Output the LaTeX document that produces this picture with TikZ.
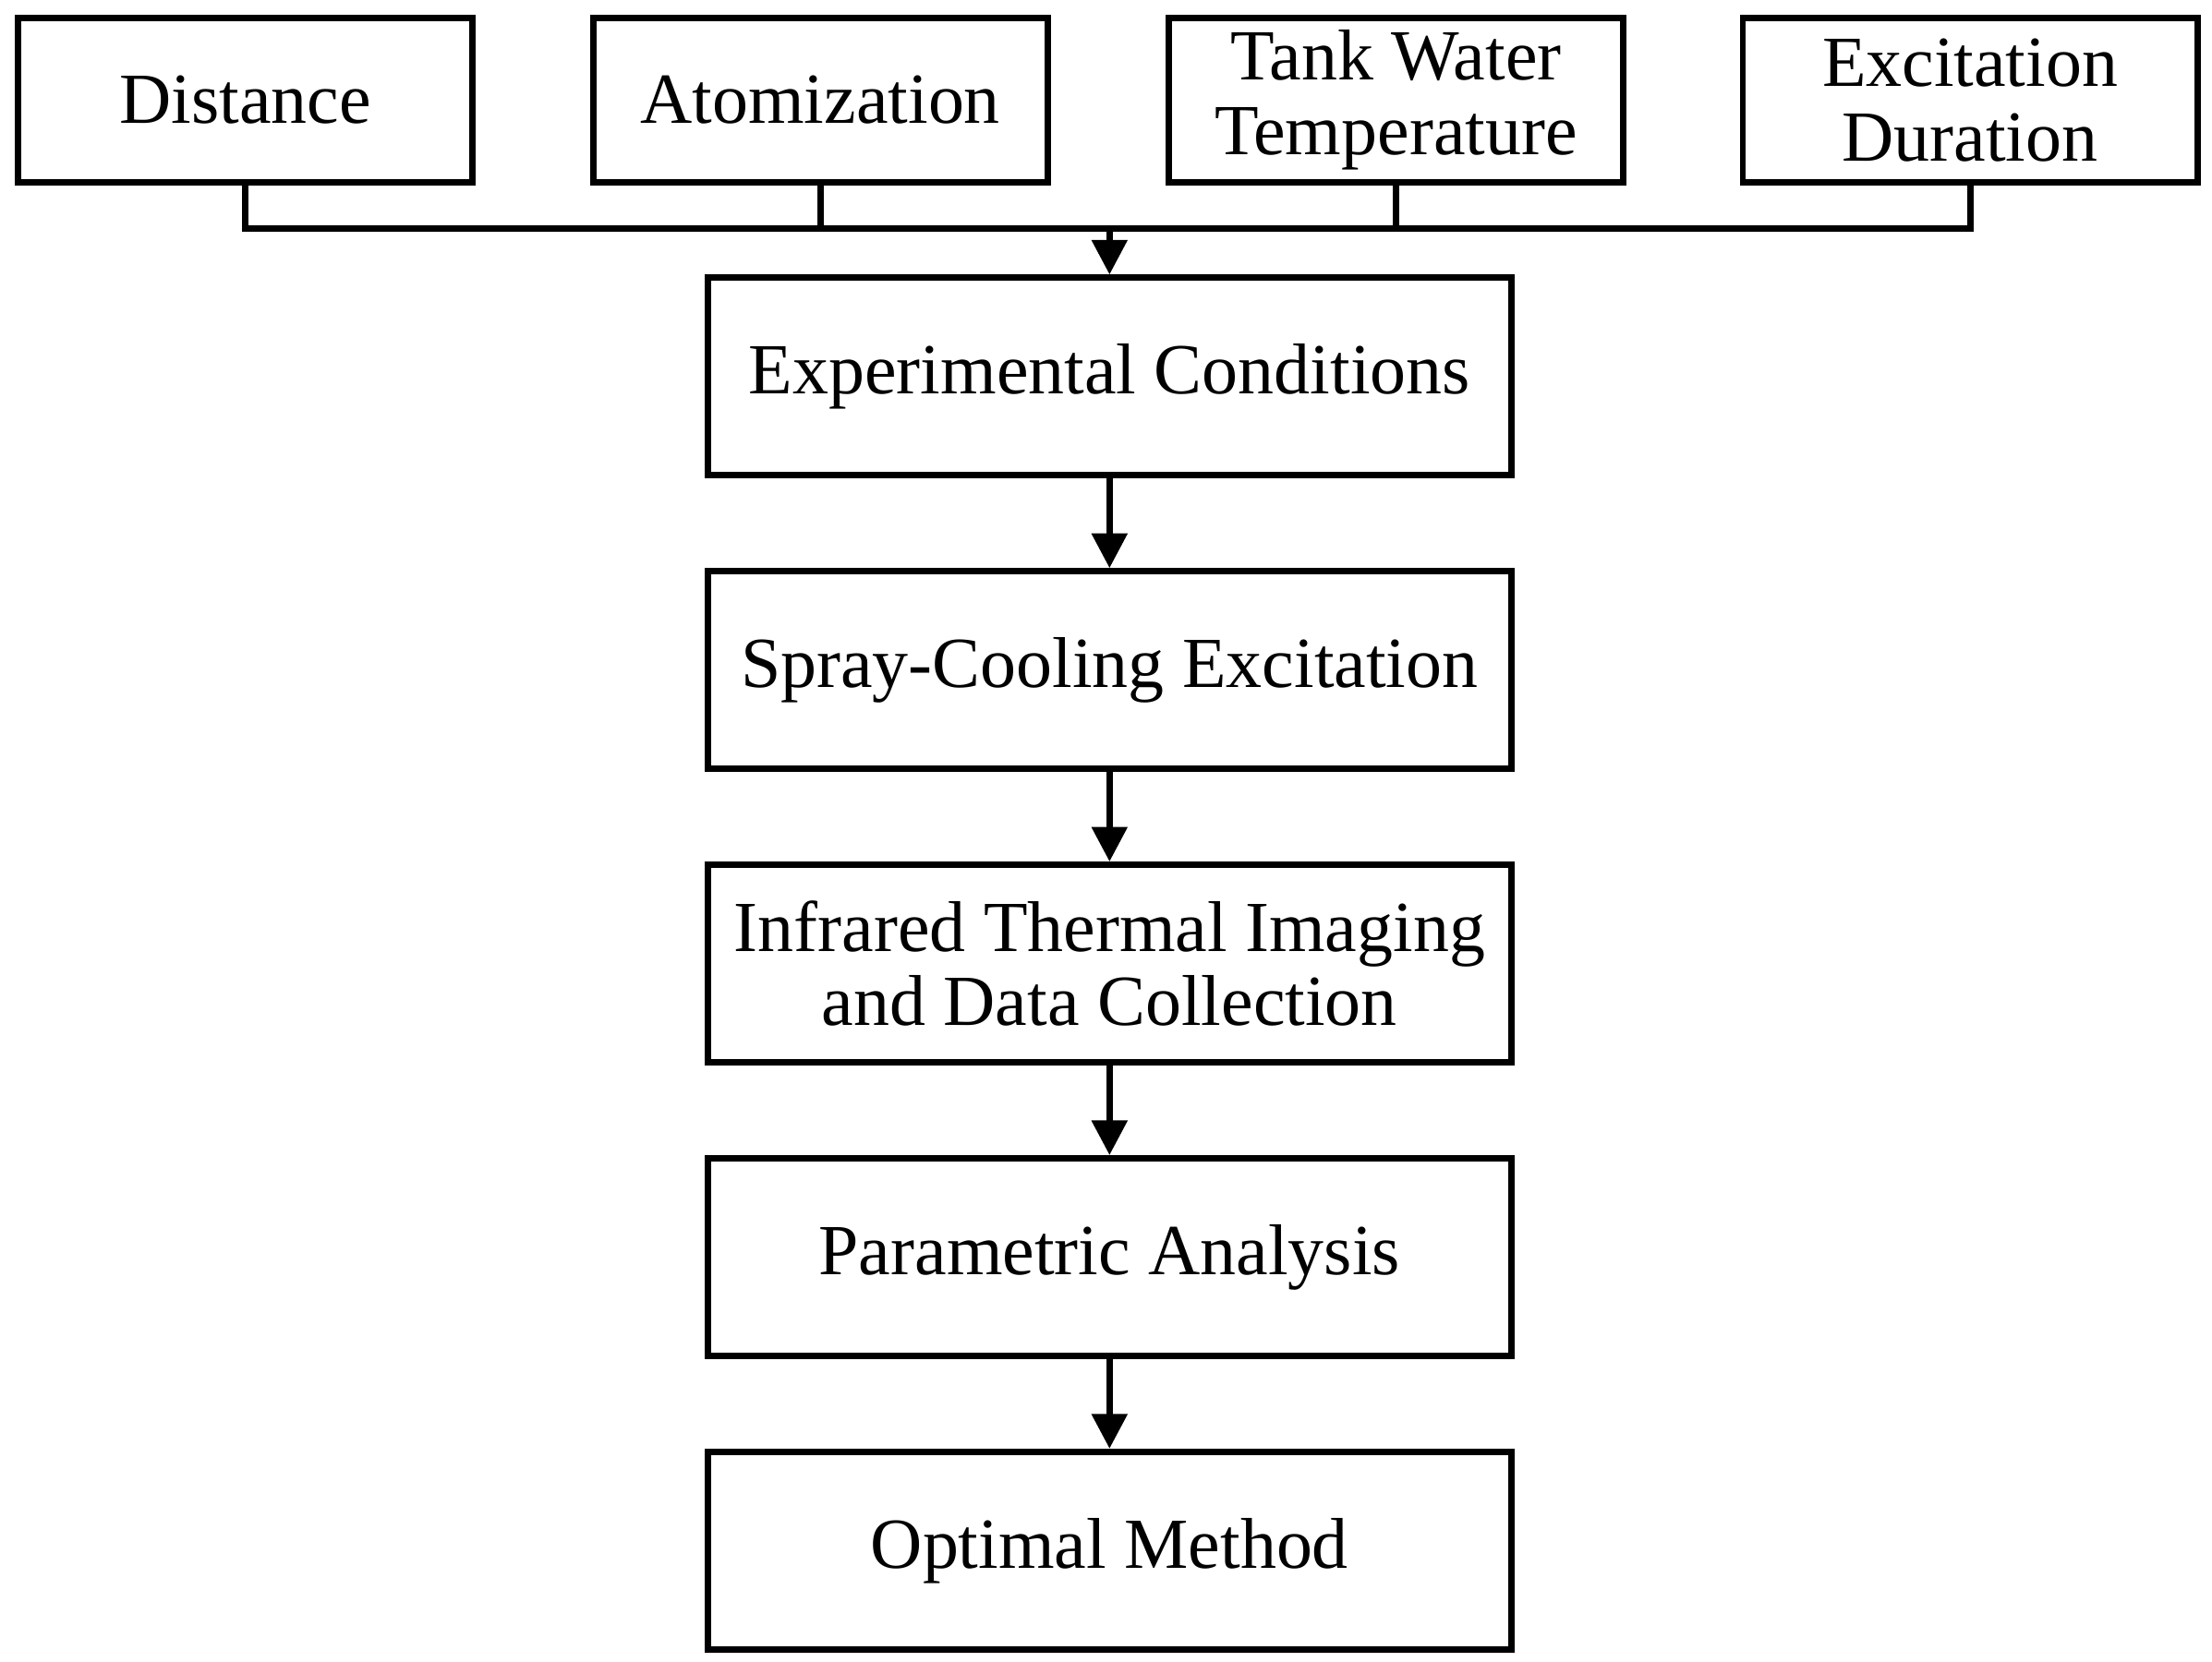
\documentclass[tikz,border=0pt]{standalone}
\usepackage{fontspec}
\setmainfont{Liberation Serif}
\usetikzlibrary{arrows.meta,positioning}

\begin{document}
\begin{tikzpicture}[x=0.01cm,y=-0.01cm,->,>={Stealth[length=7pt,width=7pt,inset=0pt]},line width=1.3pt,
node distance=2.08cm,on grid,
every node/.style={font=\fontsize{14.5}{17}\selectfont,align=center},
param/.style={draw,line width=1.3pt,minimum width=3.22cm,minimum height=1.16cm,inner sep=0pt},
stage/.style={draw,line width=1.3pt,minimum width=5.69cm,minimum height=1.40cm,inner sep=0pt}]
\useasboundingbox (0,0) rectangle (1568,1178);
\node[param] (dist) at (174,71) {Distance};
\node[param] (atom) at (581.5,71) {Atomization};
\node[param] (tank) at (989.5,71) {Tank Water\\[-2pt]Temperature};
\node[param] (dur) at (1396.5,71) {Excitation\\[-2pt]Duration};
\node[stage] (cond) at (786.5,267) {Experimental Conditions};
\node[stage] (spray) [below=of cond] {Spray-Cooling Excitation};
\node[stage] (ir) [below=of spray] {Infrared Thermal Imaging\\[-2pt]and Data Collection};
\node[stage] (para) [below=of ir] {Parametric Analysis};
\node[stage] (opt) [below=of para] {Optimal Method};
\coordinate (bus) at (786.5,162);
\draw[-] (dist.south) |- (bus) (atom.south) |- (bus) (tank.south) |- (bus) (dur.south) |- (bus);
\draw (bus) -- (cond);
\draw (cond) -- (spray);
\draw (spray) -- (ir);
\draw (ir) -- (para);
\draw (para) -- (opt);
\end{tikzpicture}
\end{document}
